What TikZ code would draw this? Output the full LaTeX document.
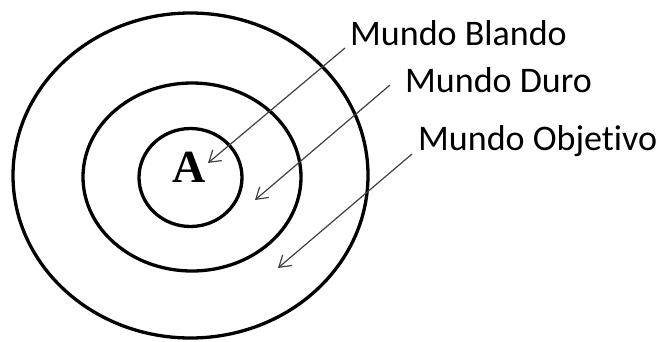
\documentclass[tikz,border=0pt]{standalone}
\usepackage{fontspec}
\setmainfont[Ligatures=NoCommon]{Carlito}
\usetikzlibrary{arrows.meta}
\begin{document}
\begin{tikzpicture}[x=1pt,y=-1pt,
  ring/.style={draw=black,line width=3.3pt},
  lbl/.style={anchor=base west,inner sep=0pt,font=\fontsize{36}{40}\selectfont},
  ptr/.style={draw=black!75,line width=1.2pt,-{Straight Barb[length=11pt,width=14pt,line width=1.2pt]}}]
\useasboundingbox (0,0) rectangle (661,341);
\draw[ring] (190.5,175.5) ellipse [x radius=177.5,y radius=162.5];
\draw[ring] (192,177) ellipse [x radius=109,y radius=94];
\draw[ring] (190.5,177.5) ellipse [x radius=51.5,y radius=49];
\node[inner sep=0pt,font=\fontsize{46}{50}\selectfont\bfseries] (A) at (189,167) {\fontspec{Liberation Serif}A};
\node[lbl] (blando) at (350,45) {Mundo Blando};
\node[lbl] (duro) at (405,92) {Mundo Duro};
\node[lbl] (obj) at (418,150) {Mundo Objetivo};
\coordinate (s1) at (345,48);
\coordinate (t1) at (208,163);
\coordinate (s2) at (390,85);
\coordinate (t2) at (255,200);
\coordinate (s3) at (412,154);
\coordinate (t3) at (278,268);
\draw[ptr] (s1) -- (t1);
\draw[ptr] (s2) -- (t2);
\draw[ptr] (s3) -- (t3);
\end{tikzpicture}
\end{document}
